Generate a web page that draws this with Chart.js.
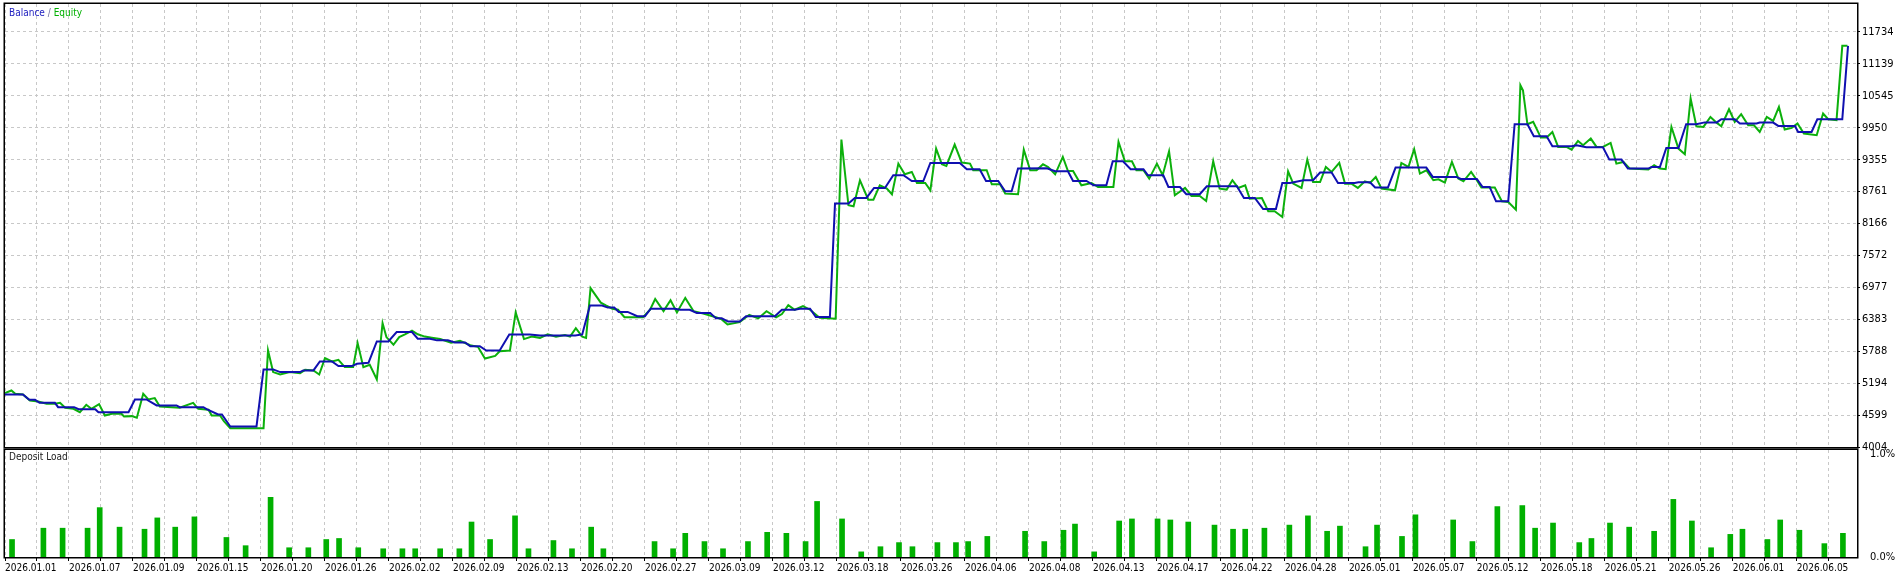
<!DOCTYPE html>
<html>
<head>
<meta charset="utf-8">
<script src="https://cdn.jsdelivr.net/npm/chart.js@4.4.1/dist/chart.umd.min.js"></script>
<style>
  body { margin: 0; background: #fff; }
  #top { position: absolute; left: 0; top: 0; }
  #bottom { position: absolute; left: 0; top: 447px; }
</style>
</head>
<body>
<canvas id="top" width="1902" height="450"></canvas>
<canvas id="bottom" width="1902" height="128"></canvas>
<script>
// x is the deal sequence number, one date label every 10 deals
const dateLabels = ['2026.01.01', '2026.01.07', '2026.01.09', '2026.01.15', '2026.01.20', '2026.01.26',
  '2026.02.02', '2026.02.09', '2026.02.13', '2026.02.20', '2026.02.27', '2026.03.09', '2026.03.12',
  '2026.03.18', '2026.03.26', '2026.04.06', '2026.04.08', '2026.04.13', '2026.04.17', '2026.04.22',
  '2026.04.28', '2026.05.01', '2026.05.07', '2026.05.12', '2026.05.18', '2026.05.21', '2026.05.26',
  '2026.06.01', '2026.06.05'];
const lastDeal = 289.4;

const equityTicks = [4004, 4599, 5194, 5788, 6383, 6977, 7572, 8166, 8761, 9355, 9950, 10545, 11139, 11734];
const equityTop = 12255;

// [deal, balance]
const balance = [
  [0, 4983], [2.8, 4983], [3.8, 4883], [4.7, 4883], [5.4, 4827], [7.8, 4827], [8.3, 4746], [10.8, 4746], [11.5, 4709], [14.1, 4709],
  [14.6, 4653], [19.3, 4653], [20.3, 4889], [22.1, 4889], [23.7, 4778], [26.8, 4778], [27.3, 4746], [31.0, 4746], [31.5, 4709], [33.3, 4610],
  [33.9, 4610], [35.2, 4386], [39.3, 4386], [40.4, 5449], [41.9, 5449], [43.0, 5399], [46.1, 5399], [46.6, 5430], [48.2, 5430], [49.2, 5598],
  [51.1, 5598], [52.1, 5511], [54.2, 5511], [55.0, 5554], [56.8, 5573], [58.1, 5971], [59.9, 5971], [61.2, 6144], [63.6, 6144], [64.5, 6020],
  [66.4, 6020], [67.5, 5990], [69.2, 5990], [70.3, 5950], [71.9, 5950], [72.7, 5880], [74.2, 5880], [75.2, 5800], [77.3, 5800], [78.8, 6100],
  [82.0, 6100], [83.6, 6080], [89.1, 6080], [90.2, 6100], [91.4, 6640], [93.3, 6640], [94.2, 6600], [95.2, 6600], [95.9, 6520], [97.3, 6520],
  [98.8, 6440], [100.0, 6440], [100.9, 6580], [104.7, 6580], [105.5, 6560], [107.0, 6560], [108.1, 6500], [110.2, 6500], [111.1, 6400], [112.0, 6400],
  [113.0, 6340], [114.8, 6340], [115.8, 6440], [120.3, 6440], [121.4, 6560], [123.4, 6560], [124.2, 6580], [125.8, 6580], [126.7, 6423], [128.9, 6423],
  [129.7, 8537], [131.8, 8537], [132.8, 8642], [134.6, 8642], [135.8, 8828], [137.5, 8828], [138.8, 9065], [140.4, 9065], [141.7, 8958], [143.5, 8958],
  [144.6, 9294], [149.2, 9294], [150.3, 9177], [152.3, 9177], [153.3, 8958], [155.2, 8958], [156.3, 8766], [157.3, 8766], [158.3, 9190], [162.8, 9196],
  [164.1, 9139], [166.1, 9139], [166.9, 8958], [169.0, 8958], [170.1, 8878], [172.1, 8878], [173.1, 9326], [174.7, 9326], [175.9, 9177], [177.9, 9177],
  [178.6, 9065], [181.0, 9065], [181.8, 8847], [183.6, 8847], [184.6, 8711], [186.7, 8711], [187.8, 8860], [192.5, 8860], [193.6, 8642], [195.3, 8642],
  [196.6, 8437], [198.6, 8437], [199.6, 8921], [200.8, 8921], [202.9, 8972], [204.4, 8972], [205.5, 9115], [207.3, 9115], [208.3, 8921], [210.9, 8921],
  [211.5, 8933], [213.3, 8933], [214.1, 8836], [216.1, 8836], [217.3, 9208], [222.1, 9208], [223.1, 9034], [226.8, 9034], [227.5, 8996], [230.0, 8996],
  [230.9, 8847], [232.0, 8847], [233.0, 8580], [234.9, 8580], [235.9, 10015], [237.9, 10015], [238.9, 9792], [240.9, 9792], [241.8, 9605], [244.8, 9605],
  [245.6, 9624], [247.1, 9587], [249.7, 9587], [250.7, 9357], [252.6, 9357], [253.6, 9190], [256.8, 9190], [257.3, 9220], [258.6, 9220], [259.6, 9574],
  [261.5, 9574], [262.7, 10015], [264.3, 10015], [265.6, 10050], [267.5, 10050], [268.2, 10109], [270.3, 10109], [271.1, 10028], [273.7, 10028], [274.2, 10047],
  [276.3, 10047], [277.1, 9984], [279.7, 9984], [280.2, 9872], [282.3, 9872], [283.2, 10109], [287.1, 10109], [288.0, 11475]
];

// [deal, equity]
const equity = [
  [0, 5007], [1.0, 5057], [1.6, 4995], [2.8, 4983], [3.9, 4871], [5.2, 4852], [6.5, 4809], [7.8, 4809], [8.6, 4827], [9.4, 4734],
  [10.7, 4715], [11.7, 4653], [12.7, 4790], [13.5, 4715], [14.7, 4802], [15.6, 4591], [16.7, 4622], [18.2, 4622], [18.6, 4573], [19.8, 4579],
  [20.6, 4548], [21.6, 4995], [22.4, 4889], [23.4, 4914], [24.2, 4759], [27.3, 4734], [29.4, 4827], [30.2, 4715], [31.8, 4697], [32.3, 4591],
  [33.6, 4591], [34.2, 4485], [35.2, 4355], [40.4, 4355], [41.1, 5803], [41.9, 5399], [43.0, 5355], [44.5, 5399], [46.1, 5380], [46.9, 5442],
  [48.2, 5430], [49.1, 5355], [50.0, 5660], [51.1, 5598], [52.1, 5629], [53.1, 5492], [54.4, 5492], [55.1, 5939], [56.0, 5492], [57.0, 5536],
  [58.1, 5262], [59.0, 6312], [59.6, 6051], [60.7, 5908], [61.6, 6051], [62.5, 6100], [63.6, 6172], [64.5, 6104], [65.6, 6060], [66.7, 6040],
  [68.0, 6014], [69.7, 5946], [71.1, 5980], [72.7, 5900], [73.9, 5870], [75.0, 5652], [76.6, 5700], [77.3, 5788], [78.9, 5800], [79.8, 6511],
  [81.1, 6014], [82.3, 6060], [83.6, 6037], [84.8, 6104], [86.1, 6060], [87.5, 6090], [88.3, 6060], [89.2, 6217], [90.2, 6060], [90.8, 6037],
  [91.5, 6963], [93.1, 6692], [93.9, 6640], [94.9, 6579], [95.8, 6560], [96.8, 6421], [99.7, 6421], [100.8, 6560], [101.6, 6760], [102.9, 6534],
  [104.0, 6737], [105.0, 6511], [106.3, 6782], [107.6, 6534], [109.1, 6489], [111.1, 6421], [112.0, 6380], [112.9, 6285], [114.8, 6330], [116.3, 6466],
  [117.7, 6398], [119.0, 6534], [120.5, 6421], [121.4, 6480], [122.4, 6647], [123.4, 6560], [124.7, 6629], [125.8, 6561], [127.3, 6412], [129.8, 6393],
  [130.7, 9730], [131.8, 8506], [132.6, 8487], [133.6, 8972], [134.9, 8611], [135.7, 8611], [136.7, 8878], [137.8, 8816], [138.6, 8711], [139.6, 9282],
  [140.6, 9083], [141.7, 9127], [142.5, 8922], [143.8, 8922], [144.6, 8785], [145.5, 9562], [146.4, 9270], [147.1, 9239], [148.4, 9636], [149.5, 9301],
  [150.8, 9282], [151.3, 9158], [153.4, 9158], [154.2, 8897], [155.5, 8897], [156.3, 8723], [158.3, 8711], [159.2, 9543], [160.2, 9158], [161.2, 9158],
  [162.2, 9270], [163.0, 9220], [164.1, 9083], [165.3, 9406], [166.1, 9145], [166.9, 9145], [168.2, 8878], [169.8, 8922], [170.8, 8847], [173.2, 8847],
  [174.0, 9686], [175.0, 9326], [176.1, 9326], [176.8, 9158], [177.9, 9158], [178.8, 9003], [180.0, 9282], [180.9, 9065], [181.9, 9512], [182.8, 8692],
  [184.4, 8829], [185.4, 8680], [186.7, 8680], [187.7, 8586], [188.8, 9326], [189.8, 8816], [190.9, 8798], [191.8, 8972], [192.7, 8829], [193.8, 8878],
  [194.5, 8630], [196.4, 8642], [197.4, 8394], [198.4, 8394], [199.6, 8288], [200.5, 9139], [201.3, 8909], [202.6, 8829], [203.5, 9357], [204.4, 8940],
  [205.5, 8940], [206.4, 9220], [207.3, 9127], [208.5, 9295], [209.4, 8909], [210.4, 8909], [211.4, 8829], [212.5, 8953], [213.3, 8922], [214.2, 9034],
  [215.1, 8817], [217.2, 8785], [218.2, 9295], [219.3, 9220], [220.2, 9549], [221.1, 9096], [222.1, 9158], [223.2, 8972], [224.0, 8990], [225.0, 8928],
  [226.1, 9313], [227.1, 9003], [227.9, 8953], [229.1, 9127], [230.0, 8972], [230.7, 8835], [232.8, 8835], [233.9, 8580], [234.9, 8568], [236.1, 8425],
  [236.8, 10742], [237.2, 10649], [237.9, 10015], [238.8, 10059], [240.0, 9767], [240.9, 9767], [241.8, 9872], [242.7, 9593], [244.0, 9593], [244.8, 9543],
  [245.8, 9705], [246.6, 9624], [247.8, 9748], [248.7, 9593], [249.7, 9593], [250.9, 9667], [251.8, 9282], [252.9, 9313], [253.9, 9189], [256.8, 9171],
  [257.7, 9251], [258.6, 9189], [259.5, 9177], [260.4, 9966], [261.5, 9562], [262.5, 9456], [263.4, 10494], [264.3, 9978], [265.4, 9966], [266.5, 10152],
  [267.5, 10040], [268.2, 9978], [269.4, 10295], [270.3, 10059], [271.3, 10202], [272.4, 9997], [273.3, 9997], [274.2, 9872], [275.3, 10152], [276.3, 10077],
  [277.2, 10338], [278.1, 9916], [279.2, 9947], [280.1, 10028], [281.1, 9841], [283.1, 9810], [284.1, 10214], [284.9, 10109], [286.2, 10090], [287.1, 11476],
  [287.9, 11476]
];

// [deal, deposit load %]
const depositLoad = [
  [1.1, 0.17], [6.0, 0.28], [9.0, 0.28], [12.9, 0.28], [14.8, 0.48], [17.9, 0.29], [21.8, 0.27], [23.8, 0.38], [26.6, 0.29], [29.6, 0.39],
  [34.6, 0.19], [37.6, 0.11], [41.5, 0.58], [44.4, 0.09], [47.4, 0.09], [50.2, 0.17], [52.2, 0.18], [55.2, 0.09], [59.1, 0.08], [62.1, 0.08],
  [64.1, 0.08], [68.0, 0.08], [71.0, 0.08], [72.9, 0.34], [75.8, 0.17], [79.7, 0.40], [81.8, 0.08], [85.7, 0.16], [88.6, 0.08], [91.6, 0.29],
  [93.5, 0.08], [101.5, 0.15], [104.4, 0.08], [106.3, 0.23], [109.3, 0.15], [112.2, 0.08], [116.1, 0.15], [119.1, 0.24], [122.1, 0.23], [125.1, 0.15],
  [126.9, 0.54], [130.8, 0.37], [133.8, 0.05], [136.8, 0.10], [139.7, 0.14], [141.8, 0.10], [145.7, 0.14], [148.6, 0.14], [150.5, 0.15], [153.5, 0.20],
  [159.4, 0.25], [162.4, 0.15], [165.4, 0.26], [167.2, 0.32], [170.2, 0.05], [174.1, 0.35], [176.1, 0.37], [180.1, 0.37], [182.1, 0.36], [184.9, 0.34],
  [189.0, 0.31], [191.9, 0.27], [193.8, 0.27], [196.8, 0.28], [200.7, 0.31], [203.6, 0.40], [206.6, 0.25], [208.6, 0.30], [212.6, 0.10], [214.4, 0.31],
  [218.3, 0.20], [220.4, 0.41], [226.3, 0.36], [229.3, 0.15], [233.2, 0.49], [237.1, 0.50], [239.1, 0.28], [241.9, 0.33], [246.0, 0.14], [247.9, 0.18],
  [250.8, 0.33], [253.8, 0.29], [257.7, 0.25], [260.7, 0.56], [263.6, 0.35], [266.6, 0.09], [269.6, 0.22], [271.5, 0.27], [275.4, 0.17], [277.4, 0.36],
  [280.4, 0.26], [284.3, 0.13], [287.2, 0.23]
];

const FONT = '"Liberation Sans Narrow", "DejaVu Sans Condensed", "Liberation Sans", Arial, sans-serif';
Chart.defaults.font.family = FONT;
Chart.defaults.color = '#000';

const GRID = '#c8c8c8';
const toXY = pts => pts.map(p => ({ x: p[0], y: p[1] }));

function dealTicks(axis) {
  const t = [];
  for (let v = 0; v < lastDeal; v += 5) t.push({ value: v });
  axis.ticks = t;
}

// keep the plot area fixed: no extra room for the end labels
function fixedSize(prop, size) {
  return axis => {
    axis[prop] = size;
    axis.paddingTop = 0;
    axis.paddingBottom = 0;
    axis.paddingLeft = 0;
    axis.paddingRight = 0;
  };
}

// black frame round the plot area and the coloured caption in its corner
const framePlugin = {
  id: 'frame',
  afterDraw(chart, args, opts) {
    const { ctx, chartArea: a } = chart;
    ctx.save();
    ctx.strokeStyle = '#000';
    ctx.lineWidth = 1.5;
    ctx.strokeRect(a.left - 0.75, a.top - 0.75, a.width + 1.5, a.height + 1.5);
    ctx.font = '10px ' + FONT;
    ctx.textBaseline = 'middle';
    let x = a.left + 4;
    opts.parts.forEach(p => {
      ctx.fillStyle = p.color;
      ctx.fillText(p.text, x, a.top + opts.dy);
      x += ctx.measureText(p.text).width;
    });
    ctx.restore();
  }
};

const topChart = new Chart(document.getElementById('top'), {
  type: 'line',
  data: {
    datasets: [{
      label: 'Balance',
      data: toXY(balance),
      borderColor: '#1010b0',
      borderWidth: 2,
      pointRadius: 0,
      tension: 0
    }, {
      label: 'Equity',
      data: toXY(equity),
      borderColor: '#0cb00c',
      borderWidth: 2,
      pointRadius: 0,
      tension: 0
    }]
  },
  options: {
    responsive: false,
    animation: false,
    devicePixelRatio: 1,
    layout: { padding: { left: 5, top: 4, right: 0, bottom: 0 } },
    plugins: {
      legend: { display: false },
      tooltip: { enabled: false },
      frame: {
        dy: 9,
        parts: [
          { text: 'Balance', color: '#2020c0' },
          { text: ' / ', color: '#7070a0' },
          { text: 'Equity', color: '#00b000' }
        ]
      }
    },
    scales: {
      x: {
        type: 'linear',
        min: 0,
        max: lastDeal,
        afterBuildTicks: dealTicks,
        afterFit: fixedSize('height', 3),
        ticks: { display: false },
        grid: { color: GRID, drawTicks: false },
        border: { display: false, dash: [3, 3] }
      },
      y: {
        position: 'right',
        min: equityTicks[0],
        max: equityTop,
        afterBuildTicks: axis => { axis.ticks = equityTicks.map(v => ({ value: v })); },
        afterFit: fixedSize('width', 45),
        ticks: { font: { size: 11 }, padding: 2, callback: v => String(v) },
        grid: { color: GRID, tickLength: 3, tickColor: '#000' },
        border: { display: false, dash: [3, 3] }
      }
    }
  },
  plugins: [framePlugin]
});

const bottomChart = new Chart(document.getElementById('bottom'), {
  type: 'bar',
  data: {
    datasets: [{
      label: 'Deposit Load',
      data: toXY(depositLoad),
      backgroundColor: '#00b000',
      barThickness: 5
    }]
  },
  options: {
    responsive: false,
    animation: false,
    devicePixelRatio: 1,
    layout: { padding: { left: 5, top: 3, right: 0, bottom: 0 } },
    plugins: {
      legend: { display: false },
      tooltip: { enabled: false },
      frame: { dy: 7, parts: [{ text: 'Deposit Load', color: '#202020' }] }
    },
    scales: {
      x: {
        type: 'linear',
        min: 0,
        max: lastDeal,
        offset: false,
        afterBuildTicks: dealTicks,
        afterFit: fixedSize('height', 18),
        ticks: {
          autoSkip: false,
          maxRotation: 0,
          align: 'start',
          padding: 1,
          font: { size: 10 },
          callback: v => (v % 10 === 0 ? dateLabels[v / 10] : '')
        },
        grid: { color: GRID, offset: false, tickLength: 4, tickColor: '#000' },
        border: { display: false, dash: [3, 3] }
      },
      y: {
        position: 'right',
        min: 0,
        max: 1.04,
        afterBuildTicks: axis => { axis.ticks = [{ value: 0 }, { value: 1 }]; },
        afterFit: fixedSize('width', 45),
        ticks: { font: { size: 11 }, padding: 5, callback: v => v.toFixed(1) + '%' },
        grid: { display: false },
        border: { display: false }
      }
    }
  },
  plugins: [framePlugin]
});
</script>
</body>
</html>
